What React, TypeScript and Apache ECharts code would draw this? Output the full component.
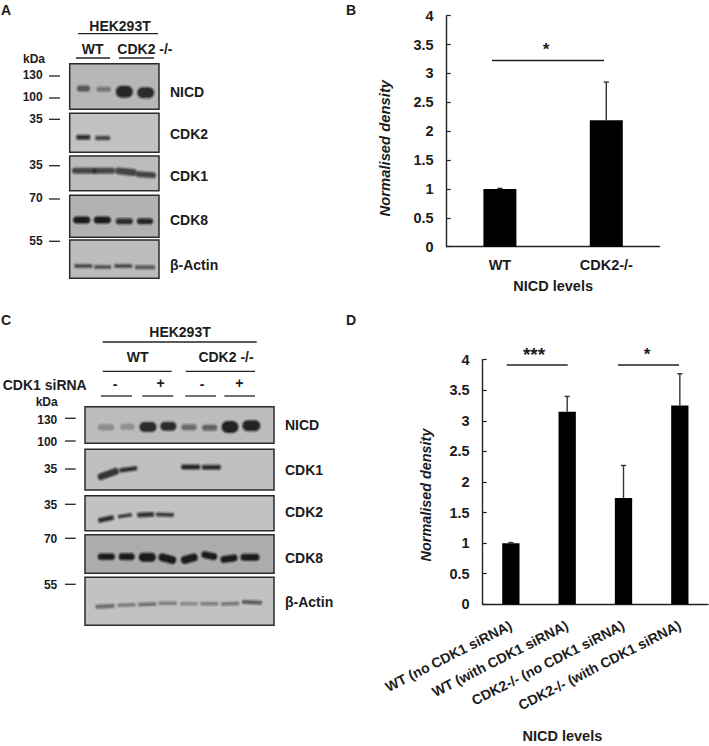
import React, { useEffect, useRef } from "react";
import * as echarts from "echarts";

const W = 709;
const H = 746;
const INK = "#1c1c1c";
const FONT = '"Liberation Sans", Arial, sans-serif';

// ---- bar chart data ----
const categoriesB = ["WT", "CDK2-/-"];
const valuesB = [1.0, 2.19];
const errTopB = [1.01, 2.85];

const categoriesD = [
  "WT (no CDK1 siRNA)",
  "WT (with CDK1 siRNA)",
  "CDK2-/- (no CDK1 siRNA)",
  "CDK2-/- (with CDK1 siRNA)",
];
const valuesD = [1.0, 3.15, 1.74, 3.25];
const errTopD = [1.01, 3.4, 2.27, 3.77];

// ---- blot description: [top, bottom, fill]; bands: [cx, cy, w, h, darkness, rotationDeg] ----
type Band = number[];
const blotA: { box: [number, number, string]; bands: Band[] }[] = [
  { box: [63.7, 109.3, "#b7b7b7"], bands: [[83.5, 88.5, 13, 6, 0.6, 0], [103.7, 89.3, 14, 5, 0.4, 0], [124.3, 91.7, 17, 12, 0.92, 0], [145.7, 92.7, 17, 11, 0.88, 0]] },
  { box: [113.3, 152.3, "#c2c2c2"], bands: [[83.3, 137.3, 14, 5, 0.85, 0], [102.7, 138, 15, 4.5, 0.7, 0]] },
  { box: [156, 190.7, "#bcbcbc"], bands: [[84, 170.7, 24, 6, 0.72, 0], [104, 170.7, 22, 6, 0.72, 0], [126, 171.7, 22, 7, 0.72, -6], [146, 174.7, 20, 6, 0.72, -4]] },
  { box: [195.3, 237.3, "#b2b2b2"], bands: [[81.7, 220, 17, 7, 1, 0], [102.3, 220, 17, 7, 1, 0], [124.3, 221.3, 17, 6, 0.85, 0], [145, 221.3, 16, 6, 0.92, 0]] },
  { box: [240, 278.3, "#bcbcbc"], bands: [[83.3, 266, 18, 4, 0.65, 0], [102.7, 267, 17, 4, 0.6, 0], [123.3, 266, 18, 4, 0.65, 0], [145, 267.3, 20, 4, 0.6, 0]] },
];
const blotC: { box: [number, number, string]; bands: Band[] }[] = [
  { box: [406.7, 443.3, "#bcbcbc"], bands: [[106, 427.3, 16, 6, 0.3, 0], [127.3, 426.7, 14, 6, 0.28, 0], [148, 427, 17, 10, 0.88, 0], [168.3, 426.3, 16, 9, 0.88, 0], [189, 427.3, 15, 6, 0.5, 0], [209.7, 427.7, 15, 6, 0.55, 0], [230, 427, 17, 12, 0.95, 0], [251.3, 425.7, 18, 11, 0.95, 0]] },
  { box: [449.3, 490, "#bfbfbf"], bands: [[108.3, 474, 22, 7, 0.82, 20], [128.3, 469.3, 18, 4.5, 0.85, 8], [190.7, 467, 19, 5, 0.9, 0], [211.3, 467.3, 19, 5, 0.85, 0]] },
  { box: [495.7, 530.7, "#c2c2c2"], bands: [[106, 519, 16, 5, 0.85, 12], [125, 515.7, 14, 3.5, 0.78, 8], [145.7, 514.7, 17, 5, 0.82, 3], [165, 514.7, 18, 4, 0.78, -2]] },
  { box: [534.7, 573.3, "#acacac"], bands: [[106.3, 556.7, 17, 6.5, 1, 0], [126.7, 556.7, 16, 7, 1, 0], [147.3, 557.3, 17, 9, 1, 0], [167.3, 558.7, 18, 8, 1, -15], [189.3, 558.7, 17, 8, 1, 15], [209.3, 555.7, 16, 7, 1, -12], [229, 558.7, 17, 7, 1, 8], [250, 557.3, 19, 7, 1, 0]] },
  { box: [577.3, 625.3, "#c2c2c2"], bands: [[105, 606.3, 19, 4, 0.5, 3], [126.7, 605, 18, 3.5, 0.4, 2], [147.3, 604.3, 18, 3.5, 0.5, 2], [167.7, 603.3, 18, 3.5, 0.4, 0], [189, 603.7, 17, 3.5, 0.35, 0], [209.3, 603.7, 18, 3.5, 0.4, 0], [230, 603.7, 18, 3.5, 0.45, 2], [252, 602.3, 20, 4, 0.6, -3]] },
];

// ---- text labels: [text, x, y, align, size] ----
type Lab = [string, number, number, "left" | "center" | "right", number?];
const labels: Lab[] = [
  ["A", 1, 10, "left", 14], ["B", 346, 10, "left", 14], ["C", 1, 320, "left", 14], ["D", 346, 320, "left", 14],
  ["HEK293T", 120, 26, "center"], ["WT", 92.7, 48.7, "center"], ["CDK2 -/-", 117.3, 48.7, "left"],
  ["kDa", 34, 59, "center", 12],
  ["130", 42.7, 75.3, "right", 12], ["100", 42.7, 97.3, "right", 12], ["35", 42.7, 119, "right", 12],
  ["35", 42.7, 165, "right", 12], ["70", 42.7, 198.3, "right", 12], ["55", 42.7, 240.7, "right", 12],
  ["NICD", 170, 92, "left"], ["CDK2", 170, 134, "left"], ["CDK1", 170, 176, "left"], ["CDK8", 170, 220, "left"], ["β-Actin", 170, 265, "left"],
  ["HEK293T", 180, 331.7, "center"], ["WT", 137.7, 356.7, "center"], ["CDK2 -/-", 226, 356.7, "center"],
  ["CDK1 siRNA", 2.7, 385.3, "left"], ["-", 115, 384, "center"], ["+", 160.7, 382.7, "center"], ["-", 202, 384, "center"], ["+", 239.3, 382.7, "center"],
  ["kDa", 46.7, 402.3, "center", 12],
  ["130", 57.3, 420, "right", 12], ["100", 57.3, 441.7, "right", 12], ["35", 57.3, 469.3, "right", 12],
  ["35", 57.3, 505, "right", 12], ["70", 57.3, 539, "right", 12], ["55", 57.3, 585, "right", 12],
  ["NICD", 285, 425.3, "left"], ["CDK1", 285, 470, "left"], ["CDK2", 285, 512.3, "left"], ["CDK8", 285, 558.3, "left"], ["β-Actin", 285, 601.7, "left"],
  ["*", 546, 49, "center", 17], ["***", 534, 354, "center", 19], ["*", 647, 354, "center", 17],
];

// ---- rules: [x1, x2, y] ----
const rules: number[][] = [
  [78, 158, 33.7], [76, 110, 58], [119, 154, 58],
  [49, 60, 76], [49, 60, 98], [49, 60, 119.3], [49, 60, 165.7], [49, 60, 199], [49, 60, 241.3],
  [102.7, 256.7, 342], [102.7, 171.7, 371.3], [185.7, 255, 371.3],
  [101, 132, 396], [142.3, 173.3, 396], [185.3, 216, 396], [224.3, 255, 396],
  [65, 75.7, 418.3], [65, 75.7, 441], [65, 75.7, 469], [65, 75.7, 504.3], [65, 75.7, 538.3], [65, 75.7, 584.3],
  [492, 604, 60.5], [506.7, 567.7, 365], [618, 679, 365],
];

function blotGraphics(panels: typeof blotA, left: number, right: number) {
  const out: any[] = [];
  for (const p of panels) {
    const [top, bottom, fill] = p.box;
    out.push({
      type: "rect",
      shape: { x: left, y: top, width: right - left, height: bottom - top },
      style: { fill, stroke: "#2b2b2b", lineWidth: 1.5 },
    });
    for (const [cx, cy, w, h, d, rot] of p.bands) {
      // Soft-edged band: nested rounded bars of growing opacity
      const layers: [number, number][] = [[1.2, 0.28 * d], [0, 0.45 * d], [-1.1, 0.85 * d * d]];
      for (const [grow, a] of layers) {
        const bw = w + 2 * grow;
        const bh = Math.max(1, h + 2 * grow);
        out.push({
          type: "rect",
          x: cx,
          y: cy,
          rotation: (rot * Math.PI) / 180,
          shape: { x: -bw / 2, y: -bh / 2, width: bw, height: bh, r: bh / 2 },
          style: { fill: `rgba(18,18,18,${a})` },
        });
      }
    }
  }
  return out;
}

function errorSeries(xIdx: number, tops: number[], values: number[]) {
  return {
    type: "custom",
    xAxisIndex: xIdx,
    yAxisIndex: xIdx,
    z: 5,
    silent: true,
    data: values.map((v, i) => [i, v, tops[i]]),
    encode: { x: 0, y: [1, 2] },
    renderItem: (_: any, api: any) => {
      const base = api.coord([api.value(0), api.value(1)]);
      const top = api.coord([api.value(0), api.value(2)]);
      const style = { stroke: "#333333", lineWidth: 1.4, fill: "none" };
      return {
        type: "group",
        children: [
          { type: "line", shape: { x1: base[0], y1: base[1], x2: top[0], y2: top[1] }, style },
          { type: "line", shape: { x1: top[0] - 2.6, y1: top[1], x2: top[0] + 2.6, y2: top[1] }, style },
        ],
      };
    },
  };
}

const tickFont = { fontFamily: FONT, fontWeight: "bold" as const, fontSize: 14.5, color: INK };

function yAxis(gridIndex: number, shift: number, gap: number, size: number) {
  return {
    type: "value",
    gridIndex,
    min: 0,
    max: 4,
    interval: 0.5,
    splitLine: { show: false },
    axisLine: { show: true, lineStyle: { color: "#222", width: 1.4 } },
    axisTick: { show: true, inside: true, length: 4, lineStyle: { color: "#222", width: 1.2 } },
    axisLabel: { ...tickFont, margin: 13 },
    name: "Normalised density",
    nameLocation: "middle",
    nameGap: gap,
    nameTextStyle: {
      fontFamily: FONT,
      fontWeight: "bold",
      fontStyle: "italic",
      fontSize: size,
      color: INK,
      padding: [0, shift, 0, 0],
    },
  };
}

export default function App() {
  const ref = useRef<HTMLDivElement>(null);
  useEffect(() => {
    document.body.style.margin = "0";
    const chart = echarts.init(ref.current!, undefined, { renderer: "svg", width: W, height: H });
    const graphic: any[] = [
      ...blotGraphics(blotA, 69.7, 159),
      ...blotGraphics(blotC, 85, 274),
      ...rules.map(([x1, x2, y]) => ({
        type: "line",
        shape: { x1, y1: y, x2, y2: y },
        style: { stroke: "#222", lineWidth: 1.3 },
      })),
      ...labels.map(([text, x, y, align, size]) => ({
        type: "text",
        x,
        y,
        style: {
          text,
          fill: INK,
          font: `bold ${size ?? 14}px ${FONT}`,
          align,
          verticalAlign: "middle",
        },
      })),
    ];
    chart.setOption({
      animation: false,
      backgroundColor: "#ffffff",
      graphic: { elements: graphic },
      grid: [
        { left: 446.7, top: 15.7, width: 212.8, height: 231, outerBoundsMode: "none" },
        { left: 482.7, top: 359.7, width: 225.3, height: 244.6, outerBoundsMode: "none" },
      ],
      xAxis: [
        {
          type: "category",
          gridIndex: 0,
          data: categoriesB,
          axisLine: { lineStyle: { color: "#222", width: 1.4 } },
          axisTick: { show: false },
          axisLabel: { ...tickFont, margin: 11 },
          name: "NICD levels",
          nameLocation: "middle",
          nameGap: 32,
          nameTextStyle: tickFont,
        },
        {
          type: "category",
          gridIndex: 1,
          data: categoriesD,
          axisLine: { lineStyle: { color: "#222", width: 1.4 } },
          axisTick: { show: false },
          axisLabel: { ...tickFont, fontSize: 14, rotate: 27, margin: 20, interval: 0 },
          name: "NICD levels",
          nameLocation: "middle",
          nameGap: 124,
          nameTextStyle: { ...tickFont, padding: [0, 66, 0, 0] },
        },
      ],
      yAxis: [yAxis(0, 34, 54, 14.8), yAxis(1, 26, 50, 14.4)],
      series: [
        { type: "bar", xAxisIndex: 0, yAxisIndex: 0, data: valuesB, barWidth: 33, itemStyle: { color: "#000" } },
        errorSeries(0, errTopB, valuesB),
        { type: "bar", xAxisIndex: 1, yAxisIndex: 1, data: valuesD, barWidth: 17.3, itemStyle: { color: "#000" } },
        errorSeries(1, errTopD, valuesD),
      ],
    });
    return () => chart.dispose();
  }, []);
  return <div ref={ref} style={{ width: W, height: H, position: "absolute", left: 0, top: 0 }} />;
}
